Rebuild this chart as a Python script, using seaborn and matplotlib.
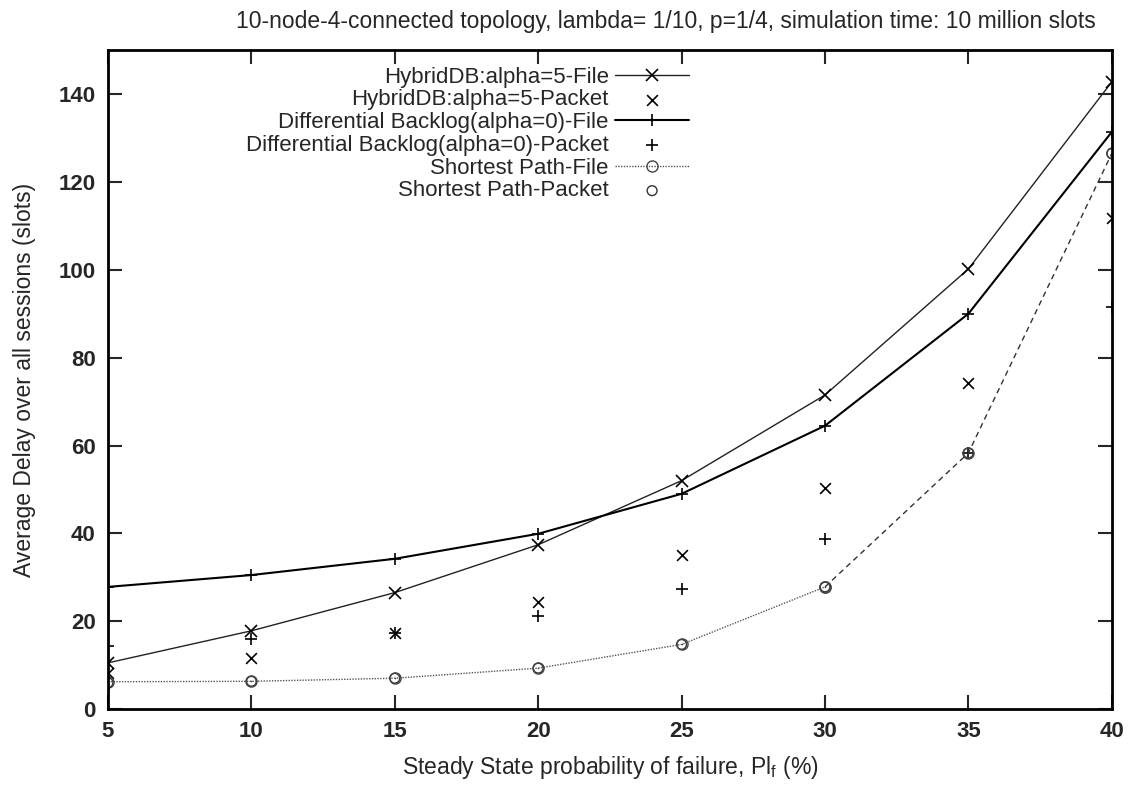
import matplotlib
matplotlib.use("Agg")
import matplotlib.pyplot as plt
import seaborn as sns
import numpy as np

# ---- data ----
pf = [5, 10, 15, 20, 25, 30, 35, 40]
hybrid_file = [10.5, 17.8, 26.5, 37.4, 52.0, 71.5, 100.2, 142.8]
hybrid_packet = [8.2, 11.6, 17.3, 24.4, 35.0, 50.3, 74.2, 111.8]
db_file = [27.8, 30.5, 34.2, 39.9, 49.0, 64.5, 90.0, 131.4]
db_packet = [14.3, 16.0, 17.2, 21.2, 27.3, 38.7, 58.3, 91.6]
sp_file = [6.2, 6.3, 7.0, 9.3, 14.7, 27.8, 58.3, 126.5]
sp_packet = [6.0, 6.3, 7.0, 9.3, 14.7, 27.8, 58.3, 126.5]

labels = [
    "HybridDB:alpha=5-File",
    "HybridDB:alpha=5-Packet",
    "Differential Backlog(alpha=0)-File",
    "Differential Backlog(alpha=0)-Packet",
    "Shortest Path-File",
    "Shortest Path-Packet",
]
title = "10-node-4-connected topology, lambda= 1/10, p=1/4, simulation time: 10 million slots"
xlabel = "Steady State probability of failure, Pl$_\\mathregular{f}$ (%)"
ylabel = "Average Delay over all sessions (slots)"
xticks = [5, 10, 15, 20, 25, 30, 35, 40]
yticks = [0, 20, 40, 60, 80, 100, 120, 140]

sns.set_style("ticks")
plt.rcParams["font.family"] = ["Liberation Sans", "DejaVu Sans"]

fig = plt.figure(figsize=(11.31, 7.86), dpi=100)
ax = fig.add_axes([0.0955, 0.098, 0.983 - 0.0955, 0.936 - 0.098])

k = "black"
sns.lineplot(x=pf, y=hybrid_file, ax=ax, color="#222222", lw=1.0, marker="x",
             markersize=8, markeredgewidth=1.2, markeredgecolor=k, label=labels[0])
sns.scatterplot(x=pf, y=hybrid_packet, ax=ax, marker="x", s=60, color=k,
                linewidth=1.2, label=labels[1])
sns.lineplot(x=pf, y=db_file, ax=ax, color=k, lw=1.5, marker="+",
             markersize=9, markeredgewidth=1.2, markeredgecolor=k, label=labels[2])
sns.scatterplot(x=pf, y=db_packet, ax=ax, marker="+", s=70, color=k,
                linewidth=1.2, label=labels[3])
sns.lineplot(x=pf[:6], y=sp_file[:6], ax=ax, color="#555555", lw=1.0,
             linestyle=(0, (1, 1)), marker="o", markersize=8, markerfacecolor="none",
             markeredgecolor="#444444", markeredgewidth=1.0, label=labels[4])
sns.lineplot(x=pf[5:], y=sp_file[5:], ax=ax, color="#333333", lw=1.0,
             linestyle=(0, (4, 3)), marker="o", markersize=8, markerfacecolor="none",
             markeredgecolor="#444444", markeredgewidth=1.0)
sns.scatterplot(x=pf, y=sp_packet, ax=ax, marker="o", s=50, facecolor="none",
                edgecolor="#333333", linewidth=1.0, label=labels[5])
# small dot in the centre of packet circles
sns.scatterplot(x=pf, y=sp_packet, ax=ax, marker=".", s=5, color="#333333", linewidth=0)

ax.set_xlim(5, 40)
ax.set_ylim(0, 150)
ax.set_xticks(xticks)
ax.set_yticks(yticks)
ax.tick_params(direction="in", length=10, width=1.5, top=True, right=True,
               labelsize=16, pad=9)
for lab in ax.get_xticklabels() + ax.get_yticklabels():
    lab.set_fontweight("bold")
for sp in ax.spines.values():
    sp.set_visible(True)
    sp.set_linewidth(2.0)
    sp.set_color("black")

ax.set_title(title, fontsize=16.5, pad=16, x=0.556)
ax.set_xlabel(xlabel, fontsize=16.5)
ax.set_ylabel(ylabel, fontsize=16.5)
ax.xaxis.set_label_coords(0.5, -0.068)
ax.yaxis.set_label_coords(-0.072, 0.5)

handles, labs = ax.get_legend_handles_labels()
leg = ax.legend(handles, labs, loc="upper right", bbox_to_anchor=(0.583, 0.982),
                frameon=False, markerfirst=False, fontsize=16, labelspacing=0.08,
                handlelength=3.3, handletextpad=0.3, borderaxespad=0, borderpad=0.2)

fig.savefig("out.png", dpi=100)
